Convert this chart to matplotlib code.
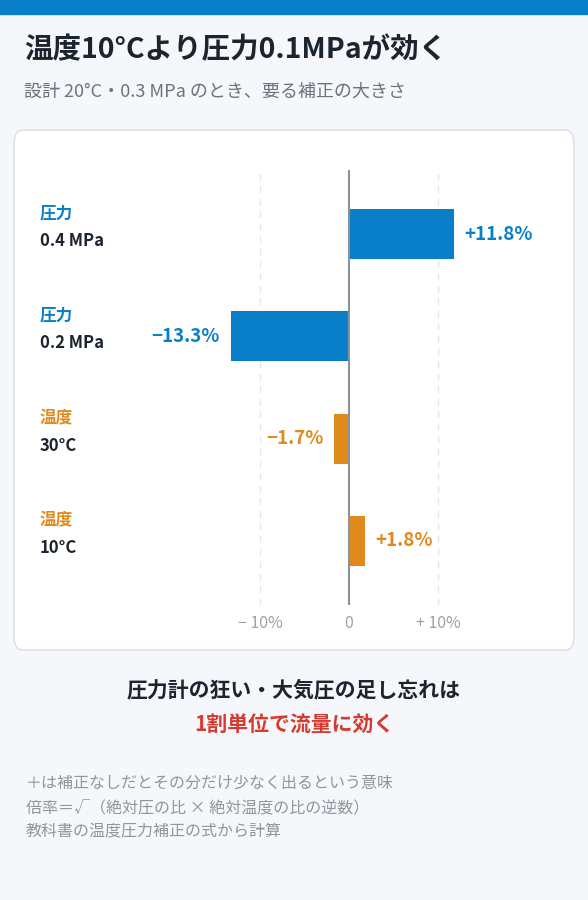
import matplotlib
matplotlib.use('Agg')
import matplotlib.pyplot as plt
from matplotlib.patches import FancyBboxPatch, Rectangle

plt.rcParams['font.family'] = ['Noto Sans CJK JP', 'DejaVu Sans']

# data (top to bottom)
kinds = ['圧力', '圧力', '温度', '温度']
conds = ['0.4 MPa', '0.2 MPa', '30°C', '10°C']
values = [11.8, -13.3, -1.7, 1.8]
tick_vals = [-10, 0, 10]
tick_labels = ['− 10%', '0', '+ 10%']

BLUE = '#0a7fc9'
ORANGE = '#e08a1e'
RED = '#d43b2e'
BG = '#f5f7fa'
kind_color = {'圧力': BLUE, '温度': ORANGE}

W, H = 588, 900
fig = plt.figure(figsize=(W / 100, H / 100), dpi=100, facecolor=BG)


def fx(x):
    return x / W


def fy(y):
    return 1 - y / H


# top stripe and card
fig.patches.append(Rectangle((0, fy(14)), 1, 14 / H, transform=fig.transFigure,
                             color=BLUE, zorder=0))
fig.patches.append(FancyBboxPatch((fx(14), fy(650)), fx(560), 520 / H,
                                  boxstyle='round,pad=0,rounding_size=0.015',
                                  transform=fig.transFigure, facecolor='white',
                                  edgecolor='#dde2e8', lw=1.2, zorder=0))

fig.text(fx(24), fy(50), '温度10°Cより圧力0.1MPaが効く', fontsize=20.5,
         fontweight='bold', color='#1c2430', va='center')
fig.text(fx(24), fy(92), '設計 20°C・0.3 MPa のとき、要る補正の大きさ', fontsize=13,
         color='#6b7480', va='center')

# axes in pixel layout: 0 at x=349, 10% = 89px
left, right, top, bottom = 190, 540, 170, 605
ax = fig.add_axes([fx(left), fy(bottom), fx(right - left), (bottom - top) / H])
ax.set_zorder(5)
ax.set_facecolor('none')
ax.set_xlim((left - 349) / 8.9, (right - 349) / 8.9)
ax.set_ylim(-0.63, 3.63)
ax.invert_yaxis()
for s in ax.spines.values():
    s.set_visible(False)
ax.set_xticks([])
ax.set_yticks([])

for t in [-10, 10]:
    ax.axvline(t, color='#e3e6ea', lw=1, ls=(0, (5, 4)), zorder=0)
ax.axvline(0, color='#8a929c', lw=1.5, zorder=3)

ys = range(len(values))
colors = [kind_color[k] for k in kinds]
ax.barh(list(ys), values, height=0.49, color=colors, zorder=2)
for y, v, c in zip(ys, values, colors):
    txt = ('+' if v > 0 else '−') + f'{abs(v):.1f}%'
    ax.text(v + (1.2 if v > 0 else -1.2), y, txt, color=c, fontsize=13.5,
            fontweight='bold', va='center', ha='left' if v > 0 else 'right')

for t, lab in zip(tick_vals, tick_labels):
    fig.text(fx(349 + t * 8.9), fy(624), lab, fontsize=11.5, color='#9aa1aa',
             ha='center', va='center')

row_y = [228, 330, 433, 535]
for ry, k, c in zip(row_y, kinds, conds):
    fig.text(fx(40), fy(ry - 15), k, fontsize=12, fontweight='bold',
             color=kind_color[k], va='center')
    fig.text(fx(40), fy(ry + 13), c, fontsize=12, fontweight='bold',
             color='#1c2430', va='center')

fig.text(0.5, fy(690), '圧力計の狂い・大気圧の足し忘れは', fontsize=15,
         fontweight='bold', color='#1c2430', ha='center', va='center')
fig.text(0.5, fy(725), '1割単位で流量に効く', fontsize=15,
         fontweight='bold', color=RED, ha='center', va='center')

notes = ['＋は補正なしだとその分だけ少なく出るという意味',
         '倍率＝√（絶対圧の比 × 絶対温度の比の逆数）',
         '教科書の温度圧力補正の式から計算']
for i, n in enumerate(notes):
    fig.text(fx(26), fy(783 + i * 24.5), n, fontsize=11.5, color='#8f969e', va='center')

fig.savefig('out.png', dpi=100, facecolor=BG)
